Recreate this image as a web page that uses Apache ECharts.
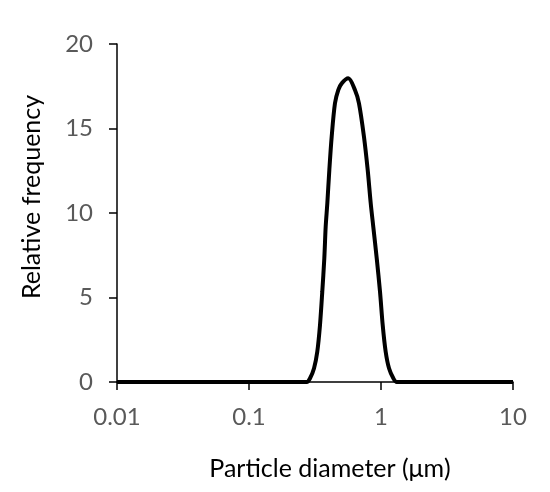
<!DOCTYPE html>
<html>
<head>
<meta charset="utf-8">
<script src="https://cdn.jsdelivr.net/npm/echarts@6/dist/echarts.min.js"></script>
<style>
  html, body { margin: 0; padding: 0; background: #fff; }
  #chart { width: 550px; height: 492px; }
</style>
</head>
<body>
<div id="chart"></div>
<script>
  // particle size (µm) and relative frequency
  const sizes = [0.01, 0.1, 0.2, 0.274, 0.290, 0.311, 0.329, 0.345, 0.359, 0.372, 0.381, 0.392, 0.406, 0.423, 0.448, 0.475, 0.504, 0.565,
    0.635, 0.681, 0.743, 0.793, 0.836, 0.874, 0.928, 0.983, 1.030, 1.085, 1.150, 1.240, 1.315, 2, 10]
  const freq = [0, 0, 0, 0, 0.22, 0.81, 1.79, 3.37, 5.34, 7.32, 9.19, 10.57, 12.54, 14.51, 16.49, 17.28, 17.67, 17.97,
    17.28, 16.49, 14.51, 12.54, 10.57, 9.19, 7.32, 5.34, 3.37, 1.79, 0.81, 0.22, 0, 0, 0]
  const yTicks = [0, 5, 10, 15, 20]

  const chart = echarts.init(document.getElementById('chart'))
  const labelColor = '#595959'
  const font = 'Lato'

  const option = {
    animation: false,
    grid: { left: 117, right: 37, top: 44, bottom: 110 },
    xAxis: {
      type: 'log',
      logBase: 10,
      min: 0.01,
      max: 10,
      name: 'Particle diameter (μm)',
      nameLocation: 'middle',
      nameGap: 74,
      nameTextStyle: { color: '#000', fontSize: 25, fontFamily: font, padding: [0, 0, 0, 30] },
      axisLine: { lineStyle: { color: '#000', width: 1.5 } },
      axisTick: { length: 8, lineStyle: { color: '#000', width: 1.5 } },
      axisLabel: { color: labelColor, fontSize: 24, fontFamily: font, margin: 23 },
      splitLine: { show: false },
      minorTick: { show: false }
    },
    yAxis: {
      type: 'value',
      min: yTicks[0],
      max: yTicks[yTicks.length - 1],
      interval: 5,
      name: 'Relative frequency',
      nameLocation: 'middle',
      nameGap: 73,
      nameTextStyle: { color: '#000', fontSize: 25, fontFamily: font, padding: [0, 0, 0, 32] },
      axisLine: { show: true, lineStyle: { color: '#000', width: 1.5 } },
      axisTick: { show: true, length: 8, lineStyle: { color: '#000', width: 1.5 } },
      axisLabel: { color: labelColor, fontSize: 24, fontFamily: font, margin: 24 },
      splitLine: { show: false }
    },
    series: [
      {
        type: 'line',
        data: sizes.map((s, i) => [s, freq[i]]),
        showSymbol: false,
        smooth: 0.3,
        lineStyle: { color: '#000', width: 4 }
      }
    ]
  }
  chart.setOption(option)
</script>
</body>
</html>
